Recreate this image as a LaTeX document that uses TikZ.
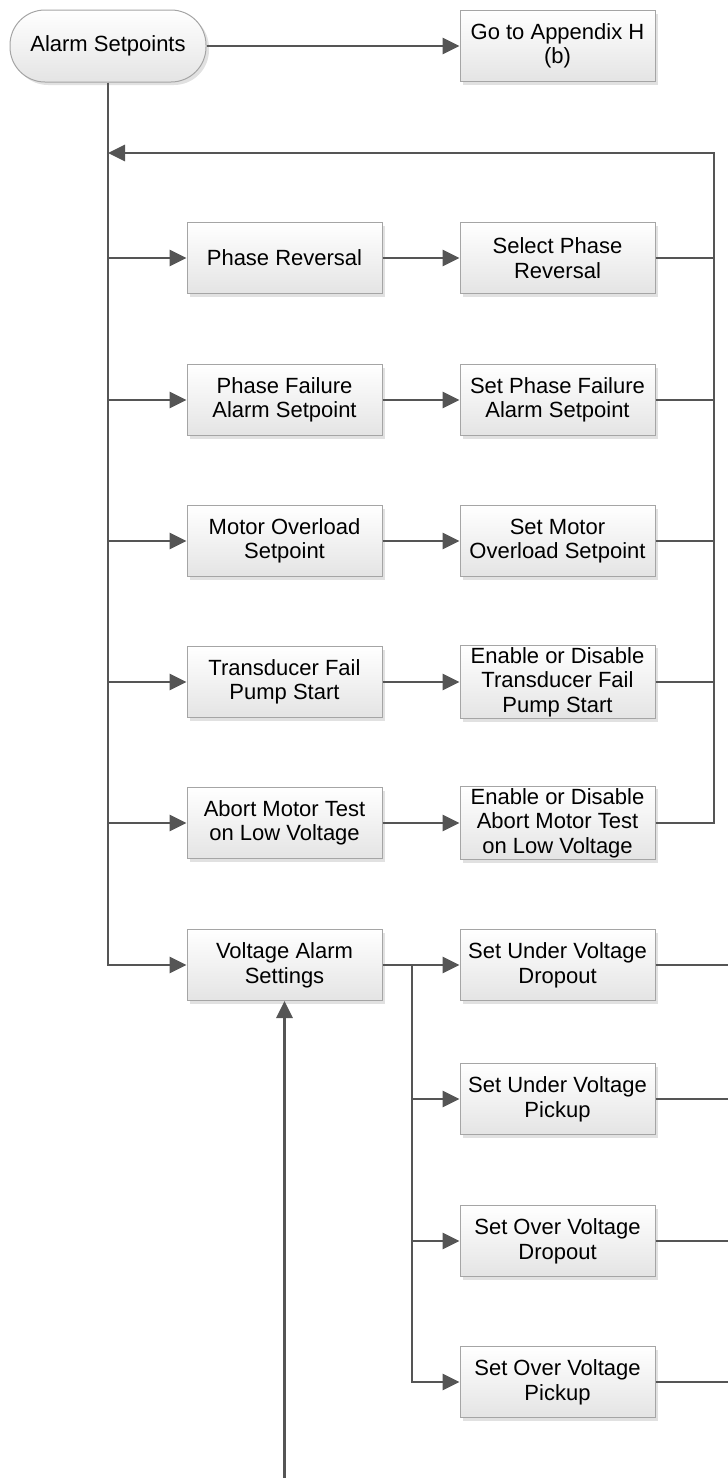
\documentclass[tikz,border=0pt]{standalone}
\usepackage{fontspec}
\setmainfont{Liberation Sans}
\usepackage{tikz}
\usetikzlibrary{arrows.meta, positioning, calc, shadows}
\definecolor{mylines}{RGB}{85,85,85}
\definecolor{myedge}{RGB}{165,165,165}
\definecolor{myshade}{RGB}{228,228,228}
\definecolor{myshadow}{RGB}{225,225,225}
\tikzset{
  stepbox/.style={rectangle, draw=myedge, top color=white, bottom color=myshade,
    minimum width=97.5pt, minimum height=35.5pt, inner sep=1pt,
    align=center, font=\fontsize{11}{12.3}\selectfont, line width=0.5pt,
    drop shadow={shadow xshift=1.5pt, shadow yshift=-1.5pt, fill=myshadow, opacity=1}},
  termbox/.style={stepbox, rounded corners=17.5pt, minimum width=98pt, minimum height=36pt},
  arrow/.style={-{Triangle[length=8.5pt, width=8pt]}, line width=1.4pt, color=mylines},
  line/.style={line width=1.4pt, color=mylines}
}

\begin{document}
\begin{tikzpicture}[x=0.5pt, y=-0.5pt]
  \useasboundingbox (0,0) rectangle (728,1478);

  % Start and exit
  \node[termbox] (setpts) at (108,46) {Alarm Setpoints};
  \node[stepbox] (appxH) at (557.5,46) {Go to Appendix H\\(b)};

  % Menu items (left column)
  \node[stepbox] (phrev) at (284.5,258) {Phase Reversal};
  \node[stepbox] (phfail) at (284.5,400) {Phase Failure\\Alarm Setpoint};
  \node[stepbox] (motovl) at (284.5,541) {Motor Overload\\Setpoint};
  \node[stepbox] (trfail) at (284.5,682) {Transducer Fail\\Pump Start};
  \node[stepbox] (abort) at (284.5,823) {Abort Motor Test\\on Low Voltage};
  \node[stepbox] (volt) at (284.5,965) {Voltage Alarm\\Settings};

  % Actions (right column)
  \node[stepbox] (selrev) at (557.5,258) {Select Phase\\Reversal};
  \node[stepbox] (setfail) at (557.5,400) {Set Phase Failure\\Alarm Setpoint};
  \node[stepbox] (setovl) at (557.5,541) {Set Motor\\Overload Setpoint};
  \node[stepbox] (entrfail) at (557.5,682) {Enable or Disable\\Transducer Fail\\Pump Start};
  \node[stepbox] (enabort) at (557.5,823) {Enable or Disable\\Abort Motor Test\\on Low Voltage};

  % Voltage settings
  \node[stepbox] (uvdrop) at (557.5,965) {Set Under Voltage\\Dropout};
  \node[stepbox] (uvpick) at (557.5,1099) {Set Under Voltage\\Pickup};
  \node[stepbox] (ovdrop) at (557.5,1241) {Set Over Voltage\\Dropout};
  \node[stepbox] (ovpick) at (557.5,1382) {Set Over Voltage\\Pickup};

  % Helper points
  \coordinate (fbtop) at (714,153);
  \coordinate (vjunc) at (412,965);
  \coordinate (redge) at (728,0);
  \coordinate (vin) at (284.5,1478);

  % Main trunk
  \draw[arrow] (setpts) -- (appxH);
  \draw[arrow] (setpts.south) |- (volt);
  \foreach \item in {phrev, phfail, motovl, trfail, abort}
    \draw[arrow] (setpts.south |- \item) -- (\item);

  % Item to action
  \draw[arrow] (phrev) -- (selrev);
  \draw[arrow] (phfail) -- (setfail);
  \draw[arrow] (motovl) -- (setovl);
  \draw[arrow] (trfail) -- (entrfail);
  \draw[arrow] (abort) -- (enabort);

  % Return loop
  \draw[arrow] (enabort.east) -| (fbtop) -- (setpts.south |- fbtop);
  \foreach \act in {selrev, setfail, setovl, entrfail}
    \draw[line] (\act.east) -- (fbtop |- \act.east);

  % Voltage branch
  \draw[arrow] (volt) -- (uvdrop);
  \draw[arrow] (vjunc) |- (ovpick);
  \draw[arrow] (vjunc |- uvpick) -- (uvpick);
  \draw[arrow] (vjunc |- ovdrop) -- (ovdrop);
  \foreach \act in {uvdrop, uvpick, ovdrop, ovpick}
    \draw[line] (\act.east) -- (redge |- \act.east);
  \draw[arrow] (vin) -- (volt.south);
\end{tikzpicture}
\end{document}
